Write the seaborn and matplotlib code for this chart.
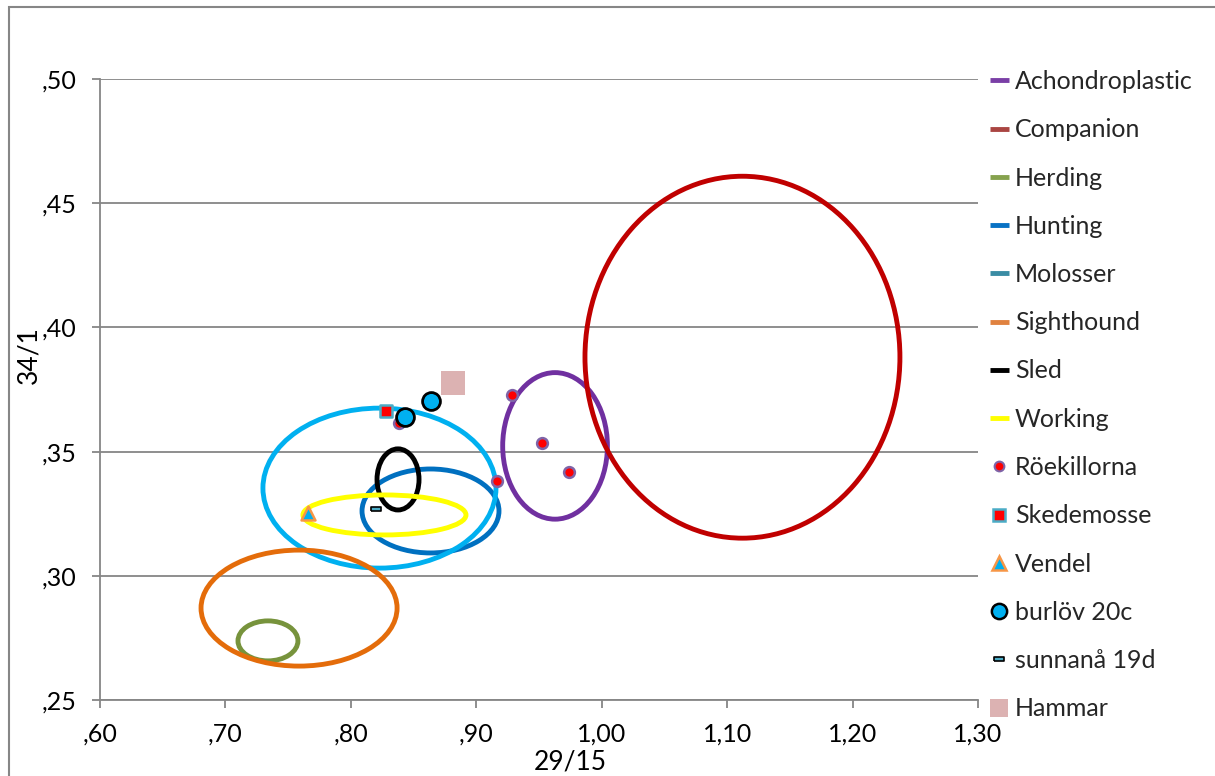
import matplotlib
matplotlib.use("Agg")
import matplotlib.pyplot as plt
import seaborn as sns
import numpy as np
import pandas as pd
from matplotlib.patches import Ellipse, Rectangle
from matplotlib.lines import Line2D
from matplotlib.ticker import FuncFormatter, MultipleLocator

# ---------------- data ----------------
groups = ["Achondroplastic", "Companion", "Herding", "Hunting",
          "Molosser", "Sighthound", "Sled", "Working"]
ell_cx = [0.9628, 1.1122, 0.7339, 0.8635, 0.8228, 0.7587, 0.8376, 0.8268]
ell_cy = [0.3523, 0.3880, 0.2738, 0.3261, 0.3353, 0.2870, 0.3388, 0.3245]
ell_w = [0.0835, 0.2511, 0.0478, 0.1092, 0.1858, 0.1563, 0.0335, 0.1300]
ell_h = [0.0590, 0.1457, 0.0161, 0.0338, 0.0644, 0.0467, 0.0246, 0.0161]
ell_colors = ["#7030A0", "#C00000", "#77933C", "#0070C0",
              "#00B0F0", "#E46C0A", "#000000", "#FFFF00"]
legend_line_colors = ["#7A3FA6", "#AA4542", "#86A24E", "#0872C4",
                      "#3A8CA4", "#E08240", "#000000", "#FFFF00"]

roek_x = [0.9285, 0.9524, 0.9739, 0.9165, 0.8384]
roek_y = [0.3728, 0.3535, 0.3418, 0.3382, 0.3615]
skede_x = [0.8280]
skede_y = [0.3663]
vendel_x = [0.7658]
vendel_y = [0.3253]
burlov_x = [0.8432, 0.8639]
burlov_y = [0.3639, 0.3704]
sunnana_x = [0.8200]
sunnana_y = [0.3269]
hammar_x = [0.8814]
hammar_y = [0.3776]

x_ticks = [0.60, 0.70, 0.80, 0.90, 1.00, 1.10, 1.20, 1.30]
y_ticks = [0.25, 0.30, 0.35, 0.40, 0.45, 0.50]
x_label = "29/15"
y_label = "34/1"

# ---------------- style ----------------
sns.set_theme(style="white")
plt.rcParams["font.family"] = ["Lato", "DejaVu Sans"]
FS = 18
GRAY = "#868686"

fig = plt.figure(figsize=(12.15, 7.76), dpi=100)
W, H = 1215, 776
ax = fig.add_axes([100 / W, 1 - 700 / H, 878 / W, 621 / H])

for i, g in enumerate(groups):
    e = Ellipse((ell_cx[i], ell_cy[i]), ell_w[i], ell_h[i], fill=False,
                edgecolor=ell_colors[i], linewidth=3.5, zorder=2 + i * 0.01)
    ax.add_patch(e)

sns.scatterplot(x=roek_x, y=roek_y, ax=ax, marker="o", s=60, color="#FF0000",
                edgecolor="#7F64A8", linewidth=1.8, zorder=5)
sns.scatterplot(x=skede_x, y=skede_y, ax=ax, marker="s", s=75, color="#FF0000",
                edgecolor="#4BACC6", linewidth=1.8, zorder=5)
sns.scatterplot(x=vendel_x, y=vendel_y, ax=ax, marker="^", s=100, color="#00B0F0",
                edgecolor="#F79646", linewidth=1.8, zorder=5)
sns.scatterplot(x=burlov_x, y=burlov_y, ax=ax, marker="o", s=165, color="#00B0F0",
                edgecolor="#000000", linewidth=2.0, zorder=6)
rect_marker = [(-1, -0.45), (1, -0.45), (1, 0.45), (-1, 0.45), (-1, -0.45)]
sns.scatterplot(x=sunnana_x, y=sunnana_y, ax=ax, marker=rect_marker, s=60,
                color="#4BACC6", edgecolor="#000000", linewidth=1.2, zorder=6)
sns.scatterplot(x=hammar_x, y=hammar_y, ax=ax, marker="s", s=280, color="#DCB2B2",
                edgecolor="#DCB2B2", linewidth=0, zorder=6)

ax.set_xlim(0.60, 1.30)
ax.set_ylim(0.25, 0.50)
ax.set_xticks(x_ticks)
ax.set_yticks(y_ticks)


def fmt(v, pos=None):
    s = f"{v:.2f}".replace(".", ",")
    if s.startswith("0"):
        s = s[1:]
    return s


ax.xaxis.set_major_formatter(FuncFormatter(fmt))
ax.yaxis.set_major_formatter(FuncFormatter(fmt))
ax.grid(axis="y", color=GRAY, linewidth=1.3)
ax.grid(axis="x", visible=False)
ax.set_axisbelow(True)
for s in ["top", "right"]:
    ax.spines[s].set_visible(False)
for s in ["left", "bottom"]:
    ax.spines[s].set_color(GRAY)
    ax.spines[s].set_linewidth(1.3)
ax.tick_params(axis="both", which="major", direction="out", length=6,
               width=1.3, color=GRAY, labelsize=FS, labelcolor="#000000")
ax.tick_params(axis="y", pad=11, left=True)
ax.tick_params(axis="x", pad=10, bottom=True)

ax.set_xlabel(x_label, fontsize=FS + 1, color="#000000")
ax.xaxis.label.set_va("center")
ax.xaxis.set_label_coords((570 - 100) / 878, (700 - 762) / 621)
ax.set_ylabel(y_label, fontsize=FS + 1, color="#000000")
ax.yaxis.label.set_va("center")
ax.yaxis.set_label_coords((29 - 100) / 878, (700 - 355) / 621)

# legend
handles = []
for i, g in enumerate(groups):
    handles.append(Line2D([0], [0], color=legend_line_colors[i], lw=3.5,
                          solid_capstyle="butt"))
handles += [
    Line2D([0], [0], ls="none", marker="o", ms=7, mfc="#FF0000", mec="#7F64A8", mew=1.5),
    Line2D([0], [0], ls="none", marker="s", ms=8, mfc="#FF0000", mec="#4BACC6", mew=1.8),
    Line2D([0], [0], ls="none", marker="^", ms=10, mfc="#00B0F0", mec="#F79646", mew=1.8),
    Line2D([0], [0], ls="none", marker="o", ms=11, mfc="#00B0F0", mec="#000000", mew=1.8),
    Line2D([0], [0], ls="none", marker=rect_marker, ms=7, mfc="#4BACC6", mec="#000000", mew=1.2),
    Line2D([0], [0], ls="none", marker="s", ms=13, mfc="#DCB2B2", mec="#DCB2B2", mew=0),
]
labels = groups + ["Röekillorna", "Skedemosse", "Vendel", "burlöv 20c",
                   "sunnanå 19d", "Hammar"]
fig.legend(handles, labels, loc="upper left", bbox_to_anchor=(990 / W, 1 - 70 / H),
           frameon=False, fontsize=FS, handlelength=0.75, handletextpad=0.25,
           labelspacing=1.01, borderpad=0, borderaxespad=0)

# outer chart border
fig.add_artist(Rectangle((9 / W, -0.05), 1.2, 1 - 7 / H + 0.05,
                         transform=fig.transFigure, fill=False,
                         edgecolor=GRAY, linewidth=1.5))

fig.savefig("out.png", dpi=100)
